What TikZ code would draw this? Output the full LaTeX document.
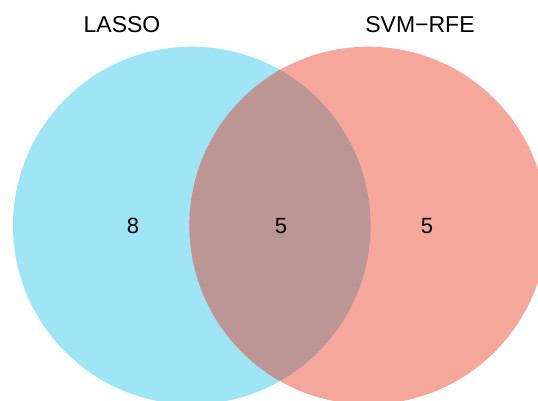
\documentclass[tikz,border=0pt]{standalone}
\usepackage{fontspec}
\setmainfont{Liberation Sans}
\usetikzlibrary{positioning}
\definecolor{lassoblue}{HTML}{9FE5F5}
\definecolor{svmred}{HTML}{F5A79B}
\definecolor{overlap}{HTML}{BC9694}

\begin{document}
\begin{tikzpicture}[x=1pt,y=1pt]
  \useasboundingbox (0,0) rectangle (538,401);
  \clip (0,0) rectangle (538,401);
  \node[circle,fill=lassoblue,inner sep=0pt,minimum size=357.6pt] (lasso) at (191.8,175.5) {};
  \node[circle,fill=svmred,inner sep=0pt,minimum size=357.6pt] (svm) at (368.2,175.5) {};
  \begin{scope}
    \clip (lasso.center) circle (178.8);
    \fill[overlap] (svm.center) circle (178.8);
  \end{scope}
  \node[font=\fontsize{23}{26}\selectfont] (tl) at (122,376) {LASSO};
  \node[font=\fontsize{23}{26}\selectfont] (tr) at (420,376) {SVM−RFE};
  \node[font=\fontsize{22}{25}\selectfont] (nl) at (133,175) {8};
  \node[font=\fontsize{22}{25}\selectfont] (nm) at (281,175) {5};
  \node[font=\fontsize{22}{25}\selectfont] (nr) at (427,175) {5};
\end{tikzpicture}
\end{document}
